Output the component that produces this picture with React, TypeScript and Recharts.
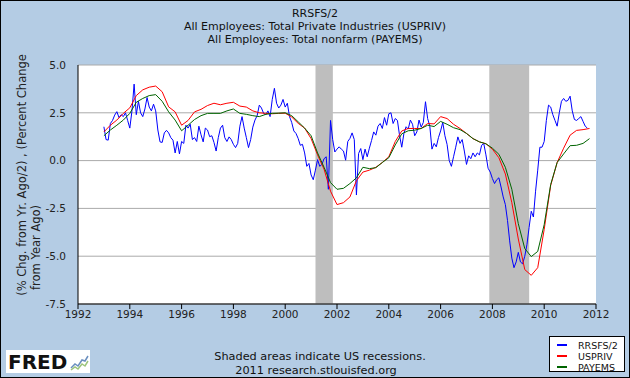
import React from "react";
import {
  LineChart,
  Line,
  XAxis,
  YAxis,
  CartesianGrid,
  ReferenceArea,
} from "recharts";

// -------------------------
// DATA
// -------------------------
const titleLines = [
  "RRSFS/2",
  "All Employees: Total Private Industries (USPRIV)",
  "All Employees: Total nonfarm (PAYEMS)",
];

const xTicks = [1992, 1994, 1996, 1998, 2000, 2002, 2004, 2006, 2008, 2010, 2012];
const yTicks = [-7.5, -5, -2.5, 0, 2.5, 5];

// recessions: [start, end] in decimal years
const recessions = [
  [2001.17, 2001.84],
  [2007.88, 2009.42],
];

// RRSFS/2, monthly from Jan 1993
const rrsfsValues = [
  1.77, 1.1, 1.07, 1.94, 2.1, 2.38, 2.56, 2.25, 2.4, 2.3, 2.5, 2.1,
  1.7, 2.6, 4.0, 2.4, 3.1, 2.5, 2.3, 2.7, 3.3, 2.8, 2.6, 2.95,
  2.6, 1.6, 0.98, 0.95, 1.45, 1.58, 1.45, 1.2, 1.07, 0.4, 1.0, 0.35,
  1.0, 0.9, 1.85, 1.7, 1.9, 1.1, 1.2, 1.0, 1.8, 1.35, 0.98, 1.7,
  1.6, 1.25, 1.3, 0.95, 0.5, 1.2, 1.7, 1.85, 1.2, 1.0, 1.24, 1.1,
  0.85, 0.68, 0.9, 1.8, 2.3, 1.7, 1.2, 0.68, 1.1, 1.75, 2.12, 2.35,
  2.9, 2.75, 2.47, 2.4, 2.6, 2.3, 3.2, 3.78, 3.0, 2.75, 2.9, 3.2,
  2.8, 3.0, 2.3, 2.0, 1.55, 1.42, 1.16, 0.8, 0.85, 0.4, -0.3, -0.15,
  -0.75, -1.0, -0.5, 0.05, -0.3, -0.2, 0.1, 0.2, -1.5, 2.1, 1.1, 0.45,
  0.6, 0.72, 0.6, 0.5, 0.02, 1.0, 1.16, 1.45, 1.1, -1.8, 0.37, 0.63,
  0.05, 0.6, 0.2, 0.65, 1.05, 1.5, 1.33, 1.8, 1.94, 1.68, 2.25, 1.85,
  2.45, 2.5, 1.94, 2.2, 2.1, 1.3, 0.7, 1.42, 1.77, 1.65, 2.12, 1.9,
  1.3, 1.5, 2.12, 1.75, 2.0, 3.08, 2.2, 1.8, 0.6, 0.9, 0.72, 1.2,
  1.55, 2.0, 1.3, 0.85, 0.0, -0.3, 0.2, 0.7, 1.24, 0.9, 1.1, 0.5,
  -0.2, 0.25, 0.1, 0.4, 0.2, 0.4, 0.3, 0.8, 0.89, 0.3, -0.4, -0.6,
  -0.94, -1.2, -1.0, -0.9, -1.38, -1.9, -2.3, -3.13, -4.2, -5.1, -5.6, -5.3,
  -4.8, -5.3, -5.4, -5.0, -4.4, -3.5, -2.65, -2.95, -1.6, -0.5, 0.7, 0.7,
  1.0, 2.1, 2.9, 2.8, 2.4, 2.1, 1.8, 2.5, 3.1, 3.25, 3.1, 3.15,
  3.37, 2.6, 2.15, 2.1, 2.2, 2.3, 2.05, 1.8, 1.7,
];

// USPRIV, quarterly from 1993.0
const uspriv = [
  1.5, 1.85, 2.12, 2.47,
  2.76, 3.4, 3.7, 3.84,
  3.9, 3.6, 2.81, 2.55,
  1.85, 2.1, 2.55, 2.68,
  2.88, 3.0, 2.92, 3.0,
  3.05, 2.85, 2.8, 2.6,
  2.5, 2.47, 2.45, 2.47,
  2.48, 2.28, 1.95, 1.7,
  1.15, 0.3, -0.45, -1.6,
  -2.3, -2.2, -1.9, -1.05,
  -0.6, -0.5, -0.35, -0.1,
  0.2, 1.0, 1.55, 1.68,
  1.68, 1.68, 1.94, 1.92,
  2.3, 2.2, 1.9, 1.68,
  1.42, 1.15, 0.98, 0.88,
  0.6, 0.15, -0.7, -2.2,
  -4.1, -5.7, -6.0, -5.6,
  -3.6, -1.3, -0.1, 0.65,
  1.33, 1.58, 1.62, 1.68,
];

// PAYEMS, quarterly from 1993.0
const payems = [
  1.3, 1.6, 1.85, 2.12,
  2.47, 3.05, 3.25, 3.4,
  3.45, 3.1, 2.55, 2.12,
  1.56, 1.85, 2.15, 2.35,
  2.47, 2.47, 2.47, 2.6,
  2.7, 2.47, 2.42, 2.35,
  2.3, 2.42, 2.47, 2.48,
  2.5, 2.35, 2.03, 1.7,
  1.3, 0.4, -0.35, -1.15,
  -1.5, -1.45, -1.2, -0.9,
  -0.35, -0.42, -0.37, -0.1,
  0.15, 0.82, 1.4, 1.56,
  1.59, 1.68, 1.85, 1.78,
  2.05, 1.9, 1.72, 1.62,
  1.42, 1.15, 0.98, 0.88,
  0.65, 0.33, -0.35, -1.5,
  -3.3, -4.6, -5.02, -4.75,
  -3.35, -1.25, -0.1, 0.35,
  0.78, 0.8, 0.9, 1.15,
];

const series = [
  { name: "RRSFS/2", color: "#0000ff", data: rrsfsValues.map((v, i) => ({ year: 1993 + i / 12, value: v })) },
  { name: "USPRIV", color: "#ff0000", data: uspriv.map((v, i) => ({ year: 1993 + i * 0.25, value: v })) },
  { name: "PAYEMS", color: "#006400", data: payems.map((v, i) => ({ year: 1993 + i * 0.25, value: v })) },
];

const FONT = "'DejaVu Sans', Verdana, sans-serif";
const BG = "#b4cce4";

export default function App() {
  return (
    <div style={{ position: "relative", width: 630, height: 378, background: BG, fontFamily: FONT }}>
      <style>{`body{margin:0}`}</style>
      <LineChart
        width={630}
        height={378}
        margin={{ top: 65, right: 34, bottom: 44, left: 38 }}
      >
        <CartesianGrid vertical={false} stroke="#aaaaaa" fill="#ffffff" fillOpacity={1} />
        <XAxis
          dataKey="year"
          type="number"
          domain={[1992, 2012]}
          ticks={xTicks}
          allowDuplicatedCategory={false}
          height={30}
          stroke="#000"
          tickSize={5}
          tick={{ fill: "#222", fontSize: 10.5, fontFamily: FONT }}
        />
        <YAxis
          type="number"
          domain={[-7.5, 5]}
          ticks={yTicks}
          width={40}
          stroke="#000"
          tickLine={false}
          tickMargin={6}
          tickFormatter={(v: number) => v.toFixed(1)}
          tick={{ fill: "#222", fontSize: 10.5, fontFamily: FONT }}
        />
        {recessions.map(([a, b]) => (
          <ReferenceArea key={a} x1={a} x2={b} fill="#bebebe" fillOpacity={1} stroke="none" />
        ))}
        {series.map((s) => (
          <Line
            key={s.name}
            data={s.data}
            dataKey="value"
            name={s.name}
            stroke={s.color}
            strokeWidth={1}
            dot={false}
            isAnimationActive={false}
          />
        ))}
      </LineChart>

      <svg
        width={630}
        height={378}
        style={{ position: "absolute", left: 0, top: 0, pointerEvents: "none" }}
        fontFamily={FONT}
      >
        <rect x={0.5} y={0.5} width={629} height={377} fill="none" stroke="#000" />
        {titleLines.map((t, i) => (
          <text key={t} x={315} y={17 + i * 13} textAnchor="middle" fontSize={11} fill="#111">
            {t}
          </text>
        ))}
        <text transform="translate(26,175) rotate(-90)" textAnchor="middle" fontSize={11.5} fill="#222">
          (% Chg. from Yr. Ago/2) , (Percent Change
        </text>
        <text transform="translate(40,290) rotate(-90)" textAnchor="start" fontSize={11.5} fill="#222">
          from Year Ago)
        </text>

        {/* footnote */}
        <text x={320} y={360} textAnchor="middle" fontSize={11.3} fill="#111">
          Shaded areas indicate US recessions.
        </text>
        <text x={316} y={374} textAnchor="middle" fontSize={11.3} fill="#111">
          2011 research.stlouisfed.org
        </text>

        {/* FRED logo */}
        <rect x={6} y={350} width={84} height={23} fill="#fff" />
        <text x={8} y={369} fontSize={20} fontWeight="bold" fill="#111" fontFamily="'DejaVu Sans', Arial, sans-serif">
          FRED
        </text>
        <polyline points="71,368 75,364 78,366 82,360 85,361 88,356" fill="none" stroke="#6a8fbf" strokeWidth={1.5} />
        <polyline points="71,370 75,367 78,369 82,364 85,366 88,361" fill="none" stroke="#9cc47c" strokeWidth={1.5} />

        {/* legend */}
        <rect x={549.5} y={336.5} width={75} height={35} fill="#fff" stroke="#000" />
        {series.map((s, i) => (
          <g key={s.name}>
            <line x1={557} x2={567} y1={345 + i * 11} y2={345 + i * 11} stroke={s.color} strokeWidth={2} />
            <text x={578} y={348.5 + i * 11} fontSize={9.5} fill="#111">
              {s.name}
            </text>
          </g>
        ))}
      </svg>
    </div>
  );
}
